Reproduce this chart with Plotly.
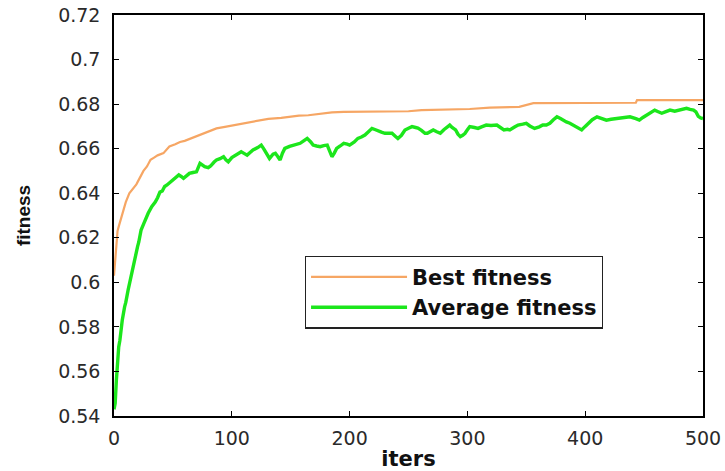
import plotly.graph_objects as go

# Best fitness per iteration (monotone, step-like)
best_iters = [0, 1, 2, 3, 4, 6, 8, 10, 13, 16, 19, 22, 25, 28, 31, 34, 37, 42, 47, 52,
              56, 60, 65, 70, 76, 82, 87, 93, 99, 105, 110, 116, 121, 126, 131, 142, 150,
              157, 165, 171, 178, 185, 195, 213, 241, 250, 261, 270, 277, 302, 319, 344,
              356, 395, 443, 444, 500]
best_fitness = [0.603, 0.610, 0.619, 0.623, 0.625, 0.629, 0.632, 0.636, 0.640, 0.642,
                0.644, 0.647, 0.650, 0.652, 0.655, 0.656, 0.657, 0.658, 0.661, 0.662,
                0.663, 0.6635, 0.6646, 0.6655, 0.6669, 0.668, 0.6691, 0.6697, 0.6703,
                0.6708, 0.6714, 0.6718, 0.6724, 0.6728, 0.6734, 0.6738, 0.6744, 0.6748,
                0.6750, 0.6754, 0.6758, 0.6763, 0.6765, 0.6766, 0.6766, 0.6768, 0.6773,
                0.6774, 0.6778, 0.6778, 0.6784, 0.6788, 0.6804, 0.6806, 0.6806, 0.6818,
                0.6818]

# Average fitness of the population per iteration
avg_iters = [0, 1, 2, 3, 4, 5, 6, 7, 9, 10, 12, 13, 15, 16, 18, 20, 21, 23, 25, 27, 29,
             32, 35, 37, 39, 41, 43, 45, 48, 50, 53, 55, 57, 59, 62, 64, 67, 70, 73, 75,
             77, 80, 82, 85, 87, 90, 93, 95, 97, 100, 103, 106, 108, 110, 113, 116, 118,
             122, 125, 127, 130, 132, 135, 137, 139, 141, 143, 145, 149, 152, 155, 158,
             161, 164, 167, 169, 172, 175, 178, 181, 183, 185, 187, 189, 192, 195, 198,
             200, 204, 207, 210, 213, 216, 219, 222, 224, 227, 230, 233, 236, 239, 241,
             244, 247, 250, 253, 256, 258, 261, 264, 266, 268, 271, 274, 277, 280, 283,
             285, 287, 290, 292, 294, 296, 298, 300, 302, 306, 309, 312, 316, 320, 325,
             328, 331, 334, 336, 340, 343, 347, 350, 353, 357, 361, 364, 367, 370, 373,
             376, 379, 381, 384, 387, 390, 393, 397, 400, 403, 406, 410, 414, 418, 422,
             427, 432, 438, 443, 446, 449, 452, 456, 459, 462, 465, 468, 472, 476, 479,
             483, 486, 489, 492, 494, 496, 498, 500]
avg_fitness = [0.543, 0.5457, 0.556, 0.566, 0.571, 0.574, 0.580, 0.583, 0.589, 0.591,
               0.5966, 0.599, 0.604, 0.608, 0.612, 0.616, 0.618, 0.6235, 0.626, 0.629,
               0.631, 0.634, 0.636, 0.638, 0.6405, 0.641, 0.643, 0.6437, 0.645, 0.6459,
               0.647, 0.6482, 0.6475, 0.6467, 0.648, 0.6489, 0.6493, 0.6496, 0.6534,
               0.6525, 0.6519, 0.6515, 0.6522, 0.654, 0.6549, 0.6555, 0.6564, 0.655,
               0.6541, 0.656, 0.6571, 0.658, 0.6586, 0.658, 0.6571, 0.6585, 0.6594,
               0.6605, 0.6616, 0.660, 0.6571, 0.6556, 0.6575, 0.6579, 0.6565, 0.6549,
               0.658, 0.6601, 0.661, 0.6616, 0.662, 0.6624, 0.6635, 0.6646, 0.663,
               0.6616, 0.6612, 0.6609, 0.6614, 0.6616, 0.659, 0.6564, 0.658, 0.6601,
               0.6612, 0.6624, 0.662, 0.6616, 0.663, 0.6646, 0.6652, 0.6661, 0.6676,
               0.6691, 0.6685, 0.6679, 0.6674, 0.6669, 0.667, 0.6669, 0.6655, 0.6646,
               0.666, 0.6684, 0.6692, 0.6699, 0.6695, 0.6692, 0.6682, 0.6669, 0.6669,
               0.6676, 0.6684, 0.6676, 0.6669, 0.6685, 0.6698, 0.6706, 0.6695, 0.6684,
               0.6665, 0.6654, 0.666, 0.6669, 0.6685, 0.6699, 0.6695, 0.6691, 0.6698,
               0.6706, 0.6704, 0.6706, 0.6695, 0.6684, 0.6687, 0.6684, 0.6697, 0.6706,
               0.671, 0.6714, 0.6702, 0.6691, 0.6698, 0.6706, 0.6706, 0.6714, 0.673,
               0.6743, 0.6735, 0.6728, 0.672, 0.6714, 0.6705, 0.6699, 0.6684, 0.670,
               0.6714, 0.673, 0.6743, 0.6735, 0.6728, 0.6732, 0.6736, 0.6738, 0.6743,
               0.6735, 0.6728, 0.674, 0.675, 0.6765, 0.6773, 0.6766, 0.6759, 0.6765,
               0.6773, 0.6768, 0.6771, 0.6776, 0.6781, 0.6776, 0.6773, 0.6765, 0.6745,
               0.6738, 0.6735]

x_ticks = [0, 100, 200, 300, 400, 500]
y_ticks = [0.54, 0.56, 0.58, 0.60, 0.62, 0.64, 0.66, 0.68, 0.70, 0.72]
y_tick_labels = ["0.54", "0.56", "0.58", "0.6", "0.62", "0.64", "0.66", "0.68", "0.7", "0.72"]

fig = go.Figure()
fig.add_trace(go.Scatter(x=best_iters, y=best_fitness, mode="lines", name="<b>Best fitness</b>",
                         line=dict(color="#F6A664", width=2.2)))
fig.add_trace(go.Scatter(x=avg_iters, y=avg_fitness, mode="lines", name="<b>Average fitness</b>",
                         line=dict(color="#1CE61C", width=3.4)))

axis_common = dict(
    showline=True, linecolor="black", linewidth=1.5, mirror="ticks",
    ticks="inside", ticklen=5, tickwidth=1.2, tickcolor="black",
    showgrid=False, zeroline=False, automargin=False,
    tickfont=dict(family="DejaVu Sans", size=19, color="#2a2a2a"),
)

fig.update_xaxes(range=[0, 500], tickvals=x_ticks, ticklabelstandoff=4,
                 title=dict(text="<b>iters</b>", standoff=4,
                            font=dict(family="DejaVu Sans", size=21, color="#111")),
                 **axis_common)
fig.update_yaxes(range=[0.54, 0.72], tickvals=y_ticks, ticktext=y_tick_labels,
                 ticklabelstandoff=8,
                 title=dict(text="<b>fitness</b>", standoff=22,
                            font=dict(family="Liberation Sans", size=19, color="#111")),
                 **axis_common)

fig.update_layout(
    width=725, height=471,
    margin=dict(l=114, r=22, t=15, b=55, autoexpand=False),
    plot_bgcolor="white", paper_bgcolor="white",
    showlegend=True,
    legend=dict(x=0.324, y=0.4, xanchor="left", yanchor="top",
                bgcolor="white", bordercolor="#222", borderwidth=1.2,
                itemwidth=96, tracegroupgap=0,
                font=dict(family="DejaVu Sans", size=21, color="#111")),
)

fig.write_html("out.html")
